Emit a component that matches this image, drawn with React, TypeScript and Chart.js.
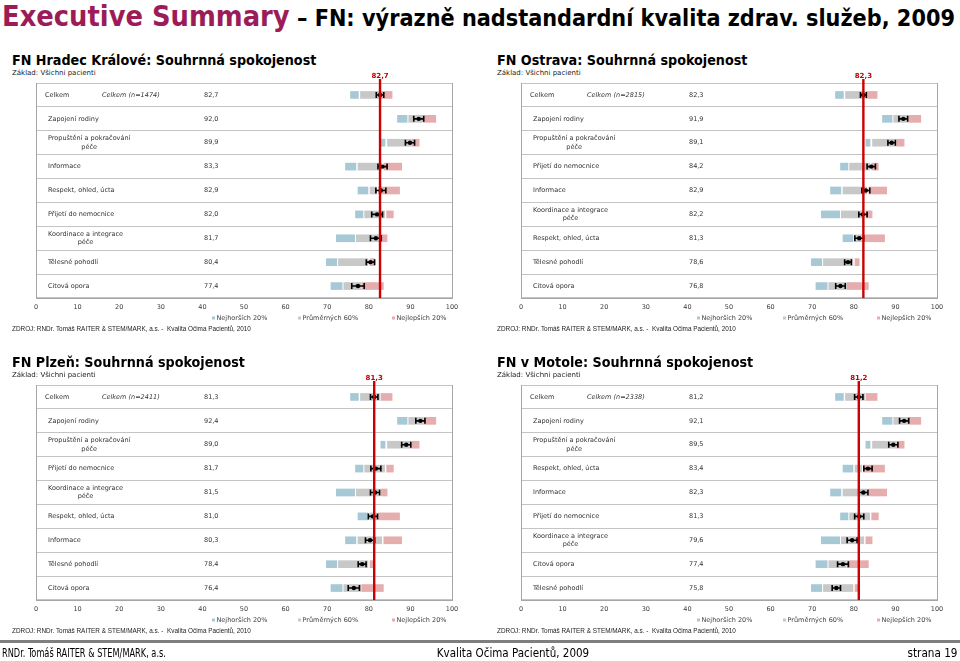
import React, { useEffect, useRef } from 'react';
import { Chart, registerables } from 'chart.js';

Chart.register(...registerables);

// ---- Benchmark dimensions (shared by all hospitals) ----
const DIMENSIONS: string[][] = [
  ['Celkem'],
  ['Zapojení rodiny'],
  ['Propuštění a pokračování', 'péče'],
  ['Informace'],
  ['Respekt, ohled, úcta'],
  ['Přijetí do nemocnice'],
  ['Koordinace a integrace', 'péče'],
  ['Tělesné pohodlí'],
  ['Citová opora'],
];
const WORST_20: [number, number][] = [
  [75.6, 77.5], [86.9, 89.2], [82.9, 83.9], [74.4, 76.9], [77.4, 79.8],
  [76.8, 78.6], [72.2, 76.6], [69.8, 72.3], [70.9, 73.6],
];
const MIDDLE_60: [number, number][] = [
  [78.0, 82.7], [89.6, 93.0], [84.5, 90.1], [77.4, 83.1], [80.3, 81.9],
  [79.0, 83.8], [77.0, 82.4], [72.7, 79.8], [74.0, 78.2],
];
const BEST_20: [number, number][] = [
  [83.0, 85.6], [93.2, 96.1], [90.3, 92.1], [83.6, 87.9], [82.3, 87.4],
  [84.3, 85.9], [82.9, 84.4], [80.3, 81.3], [78.4, 83.5],
];
const LEGEND_LABELS = ['Nejhorších 20%', 'Průměrných 60%', 'Nejlepších 20%'];
const X_MIN = 0;
const X_MAX = 100;
const X_STEP = 10;

// ---- FN Hradec Králové ----
const HK_ORDER = [0, 1, 2, 3, 4, 5, 6, 7, 8];
const HK_SCORES = [82.7, 92.0, 89.9, 83.3, 82.9, 82.0, 81.7, 80.4, 77.4];
const HK_CI = [0.9, 1.2, 1.1, 1.1, 1.2, 1.3, 1.3, 1.0, 1.5];

// ---- FN Ostrava ----
const OS_ORDER = [0, 1, 2, 5, 3, 6, 4, 7, 8];
const OS_SCORES = [82.3, 91.9, 89.1, 84.2, 82.9, 82.2, 81.3, 78.6, 76.8];
const OS_CI = [0.7, 1.05, 0.9, 1.0, 0.95, 1.0, 1.05, 0.8, 1.15];

// ---- FN Plzeň ----
const PL_ORDER = [0, 1, 2, 5, 6, 4, 3, 7, 8];
const PL_SCORES = [81.3, 92.4, 89.0, 81.7, 81.5, 81.0, 80.3, 78.4, 76.4];
const PL_CI = [0.9, 1.1, 1.1, 1.2, 1.1, 1.1, 1.1, 0.95, 1.35];

// ---- FN v Motole ----
const MO_ORDER = [0, 1, 2, 4, 3, 5, 6, 8, 7];
const MO_SCORES = [81.2, 92.1, 89.5, 83.4, 82.3, 81.3, 79.6, 77.4, 75.8];
const MO_CI = [1.0, 1.1, 1.1, 1.0, 1.1, 1.1, 1.2, 1.3, 1.0];

const COLORS = ['#a7c9d5', '#c8c8c8', '#e6adae'];
const RED = '#cc0000';
const SMALL_FONT = '"DejaVu Sans", Verdana, sans-serif';
const COND_FONT = '"DejaVu Sans Condensed", "DejaVu Sans", sans-serif';

type PanelDef = {
  title: string;
  n: number;
  order: number[];
  scores: number[];
  ci: number[];
  left: number;
  top: number;
};

const PANELS: PanelDef[] = [
  { title: 'FN Hradec Králové: Souhrnná spokojenost', n: 1474, order: HK_ORDER, scores: HK_SCORES, ci: HK_CI, left: 0, top: 0 },
  { title: 'FN Ostrava: Souhrnná spokojenost', n: 2815, order: OS_ORDER, scores: OS_SCORES, ci: OS_CI, left: 485, top: 0 },
  { title: 'FN Plzeň: Souhrnná spokojenost', n: 2411, order: PL_ORDER, scores: PL_SCORES, ci: PL_CI, left: 0, top: 302 },
  { title: 'FN v Motole: Souhrnná spokojenost', n: 2338, order: MO_ORDER, scores: MO_SCORES, ci: MO_CI, left: 485, top: 302 },
];

const fmt = (v: number) => v.toFixed(1).replace('.', ',');

const CANVAS_W = 480;
const CANVAS_H = 270;
const PAD_TOP = 17;
const PAD_LEFT = 36;
const PAD_RIGHT = 28;
const X_AXIS_H = 38;

function makeOverlay(p: PanelDef) {
  return {
    id: 'overlay',
    afterDatasetsDraw(chart: any) {
      const { ctx, chartArea, scales } = chart;
      const x = scales.x;
      const y = scales.y;
      const L = chartArea.left;
      ctx.save();
      // table text
      ctx.fillStyle = '#333333';
      ctx.textBaseline = 'middle';
      ctx.textAlign = 'left';
      p.order.forEach((dim, i) => {
        const yc = y.getPixelForValue(i);
        const lines = DIMENSIONS[dim];
        ctx.font = `6.5px ${SMALL_FONT}`;
        if (i === 0) {
          ctx.fillText(lines[0], L + 9, yc);
          ctx.font = `italic 6.5px ${SMALL_FONT}`;
          ctx.fillText(`Celkem (n=${p.n})`, L + 66, yc);
          ctx.font = `6.5px ${SMALL_FONT}`;
        } else if (lines.length === 1) {
          ctx.fillText(lines[0], L + 12, yc);
        } else {
          const w = ctx.measureText(lines[0]).width;
          ctx.textAlign = 'left';
          ctx.fillText(lines[0], L + 12, yc - 4.3);
          ctx.textAlign = 'center';
          ctx.fillText(lines[1], L + 12 + w / 2, yc + 4.3);
          ctx.textAlign = 'left';
        }
        ctx.fillText(fmt(p.scores[i]), L + 168, yc);
      });
      // score markers with confidence whiskers
      ctx.strokeStyle = '#000000';
      ctx.fillStyle = '#000000';
      p.scores.forEach((v, i) => {
        const yc = y.getPixelForValue(i);
        const x0 = x.getPixelForValue(v - p.ci[i]);
        const x1 = x.getPixelForValue(v + p.ci[i]);
        const xc = x.getPixelForValue(v);
        ctx.lineWidth = 1.6;
        ctx.beginPath();
        ctx.moveTo(x0, yc);
        ctx.lineTo(x1, yc);
        ctx.moveTo(x0, yc - 3);
        ctx.lineTo(x0, yc + 3);
        ctx.moveTo(x1, yc - 3);
        ctx.lineTo(x1, yc + 3);
        ctx.stroke();
        ctx.beginPath();
        ctx.arc(xc, yc, 2.2, 0, Math.PI * 2);
        ctx.fill();
      });
      // overall red line
      const xr = x.getPixelForValue(p.scores[0]);
      ctx.strokeStyle = RED;
      ctx.lineWidth = 2.4;
      ctx.beginPath();
      ctx.moveTo(xr, chartArea.top - 4);
      ctx.lineTo(xr, chartArea.bottom);
      ctx.stroke();
      ctx.fillStyle = '#c00000';
      ctx.font = `bold 7px ${SMALL_FONT}`;
      ctx.textAlign = 'center';
      ctx.fillText(fmt(p.scores[0]), xr, chartArea.top - 6.5);
      // legend
      const ly = chartArea.bottom + 20;
      const offs = [176, 262, 356];
      ctx.font = `6.5px ${SMALL_FONT}`;
      ctx.textAlign = 'left';
      chart.data.datasets.forEach((ds: any, k: number) => {
        ctx.fillStyle = ds.backgroundColor;
        ctx.fillRect(L + offs[k], ly - 1.5, 3, 3);
        ctx.fillStyle = '#404040';
        ctx.fillText(ds.label, L + offs[k] + 4.5, ly);
      });
      ctx.restore();
    },
  };
}

function Panel({ p }: { p: PanelDef }) {
  const ref = useRef<HTMLCanvasElement>(null);
  useEffect(() => {
    if (!ref.current) return;
    const labels = p.order.map((d) => DIMENSIONS[d].join(' '));
    const chart = new Chart(ref.current, {
      type: 'bar',
      data: {
        labels,
        datasets: [
          { label: LEGEND_LABELS[0], data: p.order.map((d) => WORST_20[d]) as any, backgroundColor: COLORS[0] },
          { label: LEGEND_LABELS[1], data: p.order.map((d) => MIDDLE_60[d]) as any, backgroundColor: COLORS[1] },
          { label: LEGEND_LABELS[2], data: p.order.map((d) => BEST_20[d]) as any, backgroundColor: COLORS[2] },
        ],
      },
      options: {
        indexAxis: 'y',
        responsive: false,
        maintainAspectRatio: false,
        animation: false,
        devicePixelRatio: 1,
        layout: { padding: { left: PAD_LEFT, right: PAD_RIGHT, top: PAD_TOP, bottom: 0 } },
        datasets: { bar: { grouped: false, barThickness: 7 } } as any,
        scales: {
          x: {
            min: X_MIN,
            max: X_MAX,
            ticks: { stepSize: X_STEP, color: '#404040', font: { family: SMALL_FONT, size: 6.5 }, padding: 5 },
            grid: {
              drawTicks: false,
              color: (c: any) => (c.tick && c.tick.value === X_MAX ? '#a6a6a6' : 'rgba(0,0,0,0)'),
            },
            border: { color: '#a6a6a6' },
            afterFit: (s: any) => { s.height = X_AXIS_H; },
          },
          y: {
            ticks: { display: false },
            grid: { color: '#c4c4c4', drawTicks: false, offset: true },
            border: { color: '#a6a6a6' },
            afterFit: (s: any) => { s.width = 0; },
          },
        },
        plugins: { legend: { display: false }, tooltip: { enabled: false } },
      } as any,
      plugins: [makeOverlay(p)],
    });
    return () => chart.destroy();
  }, [p]);

  const abs = (left: number, top: number, style: any = {}) => ({
    position: 'absolute' as const, left, top, whiteSpace: 'nowrap' as const, margin: 0, ...style,
  });
  return (
    <>
      <div style={abs(p.left + 12, p.top + 52, { font: `bold 14.2px ${COND_FONT}`, fontStretch: 'condensed', lineHeight: '16px', color: '#000' })}>
        {p.title}
      </div>
      <div style={abs(p.left + 12, p.top + 69, { font: '7px "DejaVu Sans", sans-serif', lineHeight: '9px', color: '#222' })}>
        Základ: Všichni pacienti
      </div>
      <canvas
        ref={ref}
        width={CANVAS_W}
        height={CANVAS_H}
        style={{ position: 'absolute', left: p.left, top: p.top + 66, width: CANVAS_W, height: CANVAS_H }}
      />
      <div style={abs(p.left + 12, p.top + 325, { font: '6.4px "Liberation Sans", Arial, sans-serif', lineHeight: '8px', color: '#222' })}>
        ZDROJ: RNDr. Tomáš RAITER &amp; STEM/MARK, a.s. -&nbsp; Kvalita Očima Pacientů, 2010
      </div>
    </>
  );
}

const footerStyle = {
  position: 'absolute' as const,
  top: 646,
  whiteSpace: 'nowrap' as const,
  font: `12px ${COND_FONT}`,
  fontStretch: 'condensed',
  lineHeight: '14px',
  color: '#000',
};

export default function App() {
  useEffect(() => {
    document.body.style.margin = '0';
  }, []);
  return (
    <div style={{ position: 'relative', width: 960, height: 661, background: '#fff', overflow: 'hidden' }}>
      <div style={{ position: 'absolute', left: 2, top: 1, whiteSpace: 'nowrap', lineHeight: '30px', fontFamily: COND_FONT, fontStretch: 'condensed', fontWeight: 'bold' }}>
        <span style={{ fontSize: 28.7, color: '#9b1c58' }}>Executive Summary</span>
        <span style={{ fontSize: 23.2, color: '#000' }}> – FN: výrazně nadstandardní kvalita zdrav. služeb, 2009</span>
      </div>
      {PANELS.map((p, i) => (
        <Panel key={i} p={p} />
      ))}
      <div style={{ position: 'absolute', left: 0, top: 640, width: 960, height: 3, background: '#7f7f7f' }} />
      <div style={{ ...footerStyle, left: 2, transform: 'scaleX(0.76)', transformOrigin: 'left center' }}>
        RNDr. Tomáš RAITER &amp; STEM/MARK, a.s.
      </div>
      <div style={{ ...footerStyle, left: 513, transform: 'translateX(-50%) scaleX(0.96)', transformOrigin: 'center center' }}>
        Kvalita Očima Pacientů, 2009
      </div>
      <div style={{ ...footerStyle, right: 2, transform: 'scaleX(0.97)', transformOrigin: 'right center' }}>
        strana 19
      </div>
    </div>
  );
}
